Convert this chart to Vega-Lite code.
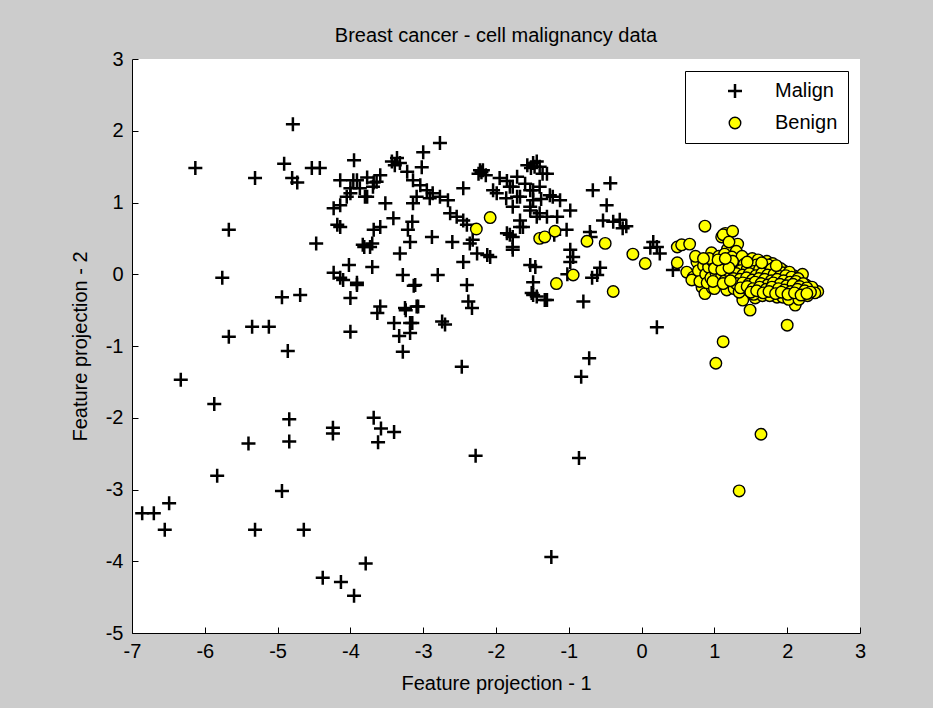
{
  "$schema": "https://vega.github.io/schema/vega-lite/v6.json",
  "autosize": {"type": "none"},
  "width": 728,
  "height": 574,
  "padding": {"left": 132, "top": 59, "right": 73, "bottom": 75},
  "background": "#cccccc",
  "config": {
    "view": {"fill": "white", "stroke": null},
    "font": "Liberation Sans",
    "axis": {"domainColor": "black", "tickColor": "black", "labelColor": "black", "titleColor": "black", "labelFontSize": 20, "titleFontSize": 20, "titleFontWeight": "normal", "labelFont": "Liberation Sans", "titleFont": "Liberation Sans", "grid": false, "tickSize": -6, "domainWidth": 1, "tickWidth": 1},
    "legend": {"labelFontSize": 20, "labelColor": "black", "labelFont": "Liberation Sans"}
  },
  "title": {"text": "Breast cancer - cell malignancy data", "fontSize": 20, "fontWeight": "normal", "color": "black", "anchor": "middle", "baseline": "alphabetic", "offset": 16, "dy": 29, "font": "Liberation Sans"},
  "data": {"values": [
    {"x": -6.13, "y": 1.48, "class": "Malign"}, {"x": -5.31, "y": 1.34, "class": "Malign"}, {"x": -4.79, "y": 2.09, "class": "Malign"}, {"x": -4.91, "y": 1.54, "class": "Malign"},
    {"x": -4.80, "y": 1.34, "class": "Malign"}, {"x": -4.73, "y": 1.28, "class": "Malign"}, {"x": -4.53, "y": 1.48, "class": "Malign"}, {"x": -4.42, "y": 1.48, "class": "Malign"},
    {"x": -3.95, "y": 1.59, "class": "Malign"}, {"x": -5.67, "y": 0.62, "class": "Malign"}, {"x": -5.76, "y": -0.05, "class": "Malign"}, {"x": -4.47, "y": 0.43, "class": "Malign"},
    {"x": -4.23, "y": 0.92, "class": "Malign"}, {"x": -4.14, "y": 0.96, "class": "Malign"}, {"x": -4.18, "y": 0.69, "class": "Malign"}, {"x": -4.14, "y": 0.66, "class": "Malign"},
    {"x": -4.14, "y": 1.31, "class": "Malign"}, {"x": -4.05, "y": 1.08, "class": "Malign"}, {"x": -4.00, "y": 1.13, "class": "Malign"}, {"x": -3.91, "y": 1.31, "class": "Malign"},
    {"x": -3.77, "y": 1.35, "class": "Malign"}, {"x": -3.68, "y": 1.28, "class": "Malign"}, {"x": -3.80, "y": 1.08, "class": "Malign"}, {"x": -3.87, "y": 1.20, "class": "Malign"},
    {"x": -3.68, "y": 0.62, "class": "Malign"}, {"x": -3.81, "y": 0.38, "class": "Malign"}, {"x": -3.70, "y": 0.43, "class": "Malign"}, {"x": -3.70, "y": 0.10, "class": "Malign"},
    {"x": -4.02, "y": 0.13, "class": "Malign"}, {"x": -4.23, "y": 0.02, "class": "Malign"}, {"x": -4.14, "y": -0.05, "class": "Malign"}, {"x": -3.91, "y": -0.12, "class": "Malign"},
    {"x": -4.94, "y": -0.32, "class": "Malign"}, {"x": -4.69, "y": -0.29, "class": "Malign"}, {"x": -4.00, "y": -0.33, "class": "Malign"}, {"x": -3.96, "y": 1.31, "class": "Malign"},
    {"x": -3.59, "y": 1.38, "class": "Malign"}, {"x": -3.64, "y": 1.29, "class": "Malign"}, {"x": -4.00, "y": 1.20, "class": "Malign"}, {"x": -3.69, "y": 1.22, "class": "Malign"},
    {"x": -3.77, "y": 1.08, "class": "Malign"}, {"x": -3.52, "y": 0.99, "class": "Malign"}, {"x": -3.41, "y": 0.78, "class": "Malign"}, {"x": -3.15, "y": 0.73, "class": "Malign"},
    {"x": -3.21, "y": 0.62, "class": "Malign"}, {"x": -3.59, "y": 0.66, "class": "Malign"}, {"x": -3.83, "y": 0.41, "class": "Malign"}, {"x": -3.73, "y": 0.38, "class": "Malign"},
    {"x": -3.32, "y": 0.29, "class": "Malign"}, {"x": -3.18, "y": 0.45, "class": "Malign"}, {"x": -2.88, "y": 0.52, "class": "Malign"}, {"x": -2.60, "y": 0.45, "class": "Malign"},
    {"x": -2.45, "y": 1.20, "class": "Malign"}, {"x": -3.22, "y": 1.43, "class": "Malign"}, {"x": -3.14, "y": 1.31, "class": "Malign"}, {"x": -3.04, "y": 1.24, "class": "Malign"},
    {"x": -2.95, "y": 1.17, "class": "Malign"}, {"x": -2.87, "y": 1.13, "class": "Malign"}, {"x": -2.91, "y": 1.06, "class": "Malign"}, {"x": -2.77, "y": 1.08, "class": "Malign"},
    {"x": -3.09, "y": 1.08, "class": "Malign"}, {"x": -3.14, "y": 0.99, "class": "Malign"}, {"x": -2.66, "y": 1.03, "class": "Malign"}, {"x": -2.77, "y": 1.83, "class": "Malign"},
    {"x": -3.00, "y": 1.70, "class": "Malign"}, {"x": -3.02, "y": 1.49, "class": "Malign"}, {"x": -3.36, "y": 1.62, "class": "Malign"}, {"x": -3.43, "y": 1.57, "class": "Malign"},
    {"x": -3.32, "y": 1.55, "class": "Malign"}, {"x": -3.39, "y": 1.52, "class": "Malign"}, {"x": -2.22, "y": 1.45, "class": "Malign"}, {"x": -2.20, "y": 1.42, "class": "Malign"},
    {"x": -2.24, "y": 1.40, "class": "Malign"}, {"x": -2.18, "y": 1.45, "class": "Malign"}, {"x": -2.63, "y": 0.85, "class": "Malign"}, {"x": -2.54, "y": 0.80, "class": "Malign"},
    {"x": -2.45, "y": 0.75, "class": "Malign"}, {"x": -2.40, "y": 0.69, "class": "Malign"}, {"x": -2.32, "y": 0.48, "class": "Malign"}, {"x": -2.36, "y": 0.43, "class": "Malign"},
    {"x": -2.26, "y": 0.29, "class": "Malign"}, {"x": -2.12, "y": 0.27, "class": "Malign"}, {"x": -2.45, "y": 0.17, "class": "Malign"}, {"x": -2.40, "y": -0.15, "class": "Malign"},
    {"x": -4.10, "y": -0.08, "class": "Malign"}, {"x": -3.28, "y": -0.01, "class": "Malign"}, {"x": -3.11, "y": -0.15, "class": "Malign"}, {"x": -2.80, "y": -0.01, "class": "Malign"},
    {"x": -1.95, "y": 1.34, "class": "Malign"}, {"x": -2.04, "y": 1.17, "class": "Malign"}, {"x": -1.77, "y": 1.22, "class": "Malign"}, {"x": -1.71, "y": 1.08, "class": "Malign"},
    {"x": -1.57, "y": 1.52, "class": "Malign"}, {"x": -1.44, "y": 1.57, "class": "Malign"}, {"x": -1.49, "y": 1.17, "class": "Malign"}, {"x": -1.49, "y": 1.03, "class": "Malign"},
    {"x": -1.53, "y": 0.89, "class": "Malign"}, {"x": -1.40, "y": 0.85, "class": "Malign"}, {"x": -1.36, "y": 1.40, "class": "Malign"}, {"x": -1.67, "y": 0.75, "class": "Malign"},
    {"x": -1.85, "y": 0.57, "class": "Malign"}, {"x": -1.77, "y": 0.52, "class": "Malign"}, {"x": -1.77, "y": 0.34, "class": "Malign"}, {"x": -1.53, "y": 0.13, "class": "Malign"},
    {"x": -1.49, "y": -0.11, "class": "Malign"}, {"x": -1.44, "y": -0.31, "class": "Malign"}, {"x": -0.43, "y": 1.27, "class": "Malign"}, {"x": -0.67, "y": 1.17, "class": "Malign"},
    {"x": -0.48, "y": 0.96, "class": "Malign"}, {"x": -0.53, "y": 0.75, "class": "Malign"}, {"x": -0.39, "y": 0.73, "class": "Malign"}, {"x": -0.26, "y": 0.64, "class": "Malign"},
    {"x": -0.21, "y": 0.67, "class": "Malign"}, {"x": -0.71, "y": 0.59, "class": "Malign"}, {"x": -0.98, "y": 0.89, "class": "Malign"}, {"x": -1.12, "y": 1.03, "class": "Malign"},
    {"x": -1.22, "y": 1.08, "class": "Malign"}, {"x": -1.03, "y": 0.62, "class": "Malign"}, {"x": -0.98, "y": 0.34, "class": "Malign"}, {"x": -0.94, "y": 0.24, "class": "Malign"},
    {"x": -0.98, "y": 0.17, "class": "Malign"}, {"x": -0.57, "y": 0.09, "class": "Malign"}, {"x": -0.61, "y": -0.01, "class": "Malign"}, {"x": -0.68, "y": -0.05, "class": "Malign"},
    {"x": -0.80, "y": -0.38, "class": "Malign"}, {"x": 0.21, "y": -0.74, "class": "Malign"}, {"x": -1.30, "y": -0.36, "class": "Malign"}, {"x": -1.46, "y": 0.10, "class": "Malign"},
    {"x": -1.51, "y": -0.26, "class": "Malign"}, {"x": -2.08, "y": 0.24, "class": "Malign"}, {"x": -1.77, "y": 0.38, "class": "Malign"}, {"x": -1.81, "y": 0.55, "class": "Malign"},
    {"x": -1.67, "y": 0.66, "class": "Malign"}, {"x": 0.16, "y": 0.45, "class": "Malign"}, {"x": 0.21, "y": 0.38, "class": "Malign"}, {"x": 0.25, "y": 0.29, "class": "Malign"},
    {"x": 0.12, "y": 0.37, "class": "Malign"}, {"x": 0.43, "y": 0.06, "class": "Malign"}, {"x": -1.49, "y": 1.55, "class": "Malign"}, {"x": -1.40, "y": 1.50, "class": "Malign"},
    {"x": -1.30, "y": 1.40, "class": "Malign"}, {"x": -1.71, "y": 1.36, "class": "Malign"}, {"x": -1.81, "y": 1.22, "class": "Malign"}, {"x": -1.53, "y": 1.17, "class": "Malign"},
    {"x": -1.40, "y": 1.22, "class": "Malign"}, {"x": -1.26, "y": 1.10, "class": "Malign"}, {"x": -1.99, "y": 1.13, "class": "Malign"}, {"x": -1.67, "y": 1.08, "class": "Malign"},
    {"x": -1.77, "y": 0.94, "class": "Malign"}, {"x": -1.53, "y": 0.94, "class": "Malign"}, {"x": -1.44, "y": 0.80, "class": "Malign"}, {"x": -1.30, "y": 0.80, "class": "Malign"},
    {"x": -1.16, "y": 0.80, "class": "Malign"}, {"x": -1.63, "y": 0.66, "class": "Malign"}, {"x": -1.02, "y": 0.00, "class": "Malign"}, {"x": -0.72, "y": -1.17, "class": "Malign"},
    {"x": -0.83, "y": -1.43, "class": "Malign"}, {"x": -2.47, "y": -1.29, "class": "Malign"}, {"x": -2.28, "y": -2.53, "class": "Malign"}, {"x": -0.86, "y": -2.56, "class": "Malign"},
    {"x": -1.24, "y": -3.94, "class": "Malign"}, {"x": -1.33, "y": -0.36, "class": "Malign"}, {"x": -1.49, "y": -0.29, "class": "Malign"}, {"x": -2.38, "y": -0.38, "class": "Malign"},
    {"x": -2.33, "y": -0.47, "class": "Malign"}, {"x": -3.25, "y": -0.47, "class": "Malign"}, {"x": -3.07, "y": -0.45, "class": "Malign"}, {"x": -3.18, "y": -0.68, "class": "Malign"},
    {"x": -3.18, "y": -0.82, "class": "Malign"}, {"x": -3.28, "y": -1.08, "class": "Malign"}, {"x": -2.74, "y": -0.66, "class": "Malign"}, {"x": -2.70, "y": -0.70, "class": "Malign"},
    {"x": -3.91, "y": -0.15, "class": "Malign"}, {"x": -3.59, "y": -0.45, "class": "Malign"}, {"x": -3.63, "y": -0.54, "class": "Malign"}, {"x": -3.24, "y": -0.50, "class": "Malign"},
    {"x": -3.09, "y": -0.45, "class": "Malign"}, {"x": -3.13, "y": -0.16, "class": "Malign"}, {"x": -3.40, "y": -0.68, "class": "Malign"}, {"x": -3.15, "y": -0.68, "class": "Malign"},
    {"x": -3.33, "y": -0.86, "class": "Malign"}, {"x": -4.00, "y": -0.80, "class": "Malign"}, {"x": -5.67, "y": -0.87, "class": "Malign"}, {"x": -5.35, "y": -0.73, "class": "Malign"},
    {"x": -5.12, "y": -0.73, "class": "Malign"}, {"x": -4.86, "y": -1.07, "class": "Malign"}, {"x": -6.33, "y": -1.47, "class": "Malign"}, {"x": -5.87, "y": -1.81, "class": "Malign"},
    {"x": -4.84, "y": -2.02, "class": "Malign"}, {"x": -4.84, "y": -2.33, "class": "Malign"}, {"x": -5.40, "y": -2.36, "class": "Malign"}, {"x": -4.24, "y": -2.14, "class": "Malign"},
    {"x": -4.24, "y": -2.22, "class": "Malign"}, {"x": -3.68, "y": -2.00, "class": "Malign"}, {"x": -3.58, "y": -2.15, "class": "Malign"}, {"x": -3.40, "y": -2.20, "class": "Malign"},
    {"x": -3.62, "y": -2.34, "class": "Malign"}, {"x": -5.83, "y": -2.81, "class": "Malign"}, {"x": -4.94, "y": -3.02, "class": "Malign"}, {"x": -6.49, "y": -3.19, "class": "Malign"},
    {"x": -6.86, "y": -3.33, "class": "Malign"}, {"x": -6.70, "y": -3.33, "class": "Malign"}, {"x": -6.55, "y": -3.56, "class": "Malign"}, {"x": -5.31, "y": -3.56, "class": "Malign"},
    {"x": -4.64, "y": -3.56, "class": "Malign"}, {"x": -3.79, "y": -4.03, "class": "Malign"}, {"x": -4.38, "y": -4.23, "class": "Malign"}, {"x": -4.13, "y": -4.29, "class": "Malign"},
    {"x": -3.95, "y": -4.48, "class": "Malign"}, {"x": -1.47, "y": 1.50, "class": "Malign"}, {"x": -1.52, "y": 1.48, "class": "Malign"}, {"x": -2.14, "y": 1.38, "class": "Malign"},
    {"x": -1.85, "y": 1.30, "class": "Malign"}, {"x": -1.60, "y": 1.26, "class": "Malign"}, {"x": -1.38, "y": 1.05, "class": "Malign"}, {"x": -1.86, "y": 1.06, "class": "Malign"},
    {"x": -1.20, "y": 0.55, "class": "Malign"}, {"x": -0.70, "y": 0.52, "class": "Malign"}, {"x": -0.30, "y": 0.76, "class": "Malign"},
    {"x": -2.27, "y": 0.63, "class": "Benign"}, {"x": -2.08, "y": 0.79, "class": "Benign"}, {"x": -1.40, "y": 0.50, "class": "Benign"}, {"x": -1.33, "y": 0.52, "class": "Benign"},
    {"x": -1.19, "y": 0.60, "class": "Benign"}, {"x": -1.17, "y": -0.13, "class": "Benign"}, {"x": -0.94, "y": -0.01, "class": "Benign"}, {"x": -0.75, "y": 0.46, "class": "Benign"},
    {"x": -0.50, "y": 0.43, "class": "Benign"}, {"x": -0.39, "y": -0.24, "class": "Benign"}, {"x": -0.12, "y": 0.28, "class": "Benign"}, {"x": 0.05, "y": 0.15, "class": "Benign"},
    {"x": 0.49, "y": 0.38, "class": "Benign"}, {"x": 0.49, "y": 0.16, "class": "Benign"}, {"x": 0.55, "y": 0.41, "class": "Benign"}, {"x": 0.66, "y": 0.42, "class": "Benign"},
    {"x": 0.87, "y": 0.67, "class": "Benign"}, {"x": 1.15, "y": 0.57, "class": "Benign"}, {"x": 1.10, "y": 0.52, "class": "Benign"}, {"x": 1.12, "y": 0.55, "class": "Benign"},
    {"x": 1.32, "y": 0.42, "class": "Benign"}, {"x": 0.62, "y": 0.03, "class": "Benign"}, {"x": 0.71, "y": -0.04, "class": "Benign"}, {"x": 0.69, "y": -0.08, "class": "Benign"},
    {"x": 0.76, "y": 0.17, "class": "Benign"}, {"x": 0.83, "y": -0.18, "class": "Benign"}, {"x": 0.87, "y": -0.27, "class": "Benign"}, {"x": 0.97, "y": -0.19, "class": "Benign"},
    {"x": 1.39, "y": -0.36, "class": "Benign"}, {"x": 1.56, "y": -0.33, "class": "Benign"}, {"x": 1.49, "y": -0.50, "class": "Benign"}, {"x": 2.11, "y": -0.43, "class": "Benign"},
    {"x": 2.00, "y": -0.71, "class": "Benign"}, {"x": 1.12, "y": -0.94, "class": "Benign"}, {"x": 1.02, "y": -1.24, "class": "Benign"}, {"x": 1.64, "y": -2.23, "class": "Benign"},
    {"x": 1.34, "y": -3.02, "class": "Benign"}, {"x": 2.42, "y": -0.24, "class": "Benign"},
    {"x": 0.78, "y": 0.05, "class": "Benign"}, {"x": 0.85, "y": 0.12, "class": "Benign"}, {"x": 0.80, "y": -0.10, "class": "Benign"}, {"x": 0.88, "y": 0.00, "class": "Benign"},
    {"x": 0.74, "y": 0.25, "class": "Benign"}, {"x": 0.90, "y": -0.12, "class": "Benign"}, {"x": 0.96, "y": 0.30, "class": "Benign"}, {"x": 1.18, "y": 0.35, "class": "Benign"},
    {"x": 1.30, "y": 0.32, "class": "Benign"}, {"x": 1.25, "y": 0.60, "class": "Benign"}, {"x": 1.20, "y": 0.45, "class": "Benign"},
    {"x": 0.92, "y": 0.10, "class": "Benign"}, {"x": 0.95, "y": -0.05, "class": "Benign"}, {"x": 0.98, "y": 0.18, "class": "Benign"}, {"x": 1.02, "y": 0.02, "class": "Benign"},
    {"x": 1.05, "y": -0.12, "class": "Benign"}, {"x": 1.08, "y": 0.12, "class": "Benign"}, {"x": 0.93, "y": 0.22, "class": "Benign"}, {"x": 1.00, "y": -0.20, "class": "Benign"},
    {"x": 1.06, "y": 0.25, "class": "Benign"}, {"x": 1.10, "y": -0.02, "class": "Benign"},
    {"x": 1.12, "y": 0.15, "class": "Benign"}, {"x": 1.15, "y": -0.08, "class": "Benign"}, {"x": 1.18, "y": 0.05, "class": "Benign"}, {"x": 1.20, "y": 0.20, "class": "Benign"},
    {"x": 1.22, "y": -0.15, "class": "Benign"}, {"x": 1.25, "y": 0.10, "class": "Benign"}, {"x": 1.28, "y": -0.03, "class": "Benign"}, {"x": 1.14, "y": 0.28, "class": "Benign"},
    {"x": 1.24, "y": 0.24, "class": "Benign"}, {"x": 1.17, "y": -0.22, "class": "Benign"}, {"x": 1.29, "y": 0.16, "class": "Benign"}, {"x": 1.27, "y": -0.20, "class": "Benign"},
    {"x": 1.31, "y": 0.05, "class": "Benign"}, {"x": 1.33, "y": -0.10, "class": "Benign"}, {"x": 1.35, "y": 0.18, "class": "Benign"}, {"x": 1.37, "y": -0.02, "class": "Benign"},
    {"x": 1.40, "y": 0.12, "class": "Benign"}, {"x": 1.42, "y": -0.18, "class": "Benign"}, {"x": 1.44, "y": 0.02, "class": "Benign"}, {"x": 1.46, "y": 0.20, "class": "Benign"},
    {"x": 1.48, "y": -0.08, "class": "Benign"}, {"x": 1.34, "y": -0.25, "class": "Benign"}, {"x": 1.38, "y": 0.25, "class": "Benign"}, {"x": 1.43, "y": 0.08, "class": "Benign"},
    {"x": 1.47, "y": -0.22, "class": "Benign"},
    {"x": 1.51, "y": 0.10, "class": "Benign"}, {"x": 1.53, "y": -0.05, "class": "Benign"}, {"x": 1.55, "y": 0.15, "class": "Benign"}, {"x": 1.57, "y": -0.15, "class": "Benign"},
    {"x": 1.59, "y": 0.03, "class": "Benign"}, {"x": 1.61, "y": -0.25, "class": "Benign"}, {"x": 1.63, "y": 0.12, "class": "Benign"}, {"x": 1.65, "y": -0.08, "class": "Benign"},
    {"x": 1.67, "y": 0.05, "class": "Benign"}, {"x": 1.69, "y": -0.18, "class": "Benign"}, {"x": 1.52, "y": 0.22, "class": "Benign"}, {"x": 1.60, "y": 0.20, "class": "Benign"},
    {"x": 1.66, "y": -0.30, "class": "Benign"}, {"x": 1.54, "y": -0.28, "class": "Benign"},
    {"x": 1.71, "y": 0.00, "class": "Benign"}, {"x": 1.73, "y": -0.12, "class": "Benign"}, {"x": 1.75, "y": 0.10, "class": "Benign"}, {"x": 1.77, "y": -0.22, "class": "Benign"},
    {"x": 1.79, "y": -0.05, "class": "Benign"}, {"x": 1.81, "y": 0.05, "class": "Benign"}, {"x": 1.83, "y": -0.15, "class": "Benign"}, {"x": 1.85, "y": -0.28, "class": "Benign"},
    {"x": 1.87, "y": 0.02, "class": "Benign"}, {"x": 1.89, "y": -0.10, "class": "Benign"}, {"x": 1.72, "y": 0.18, "class": "Benign"}, {"x": 1.80, "y": 0.15, "class": "Benign"},
    {"x": 1.86, "y": -0.32, "class": "Benign"}, {"x": 1.76, "y": -0.30, "class": "Benign"},
    {"x": 1.91, "y": -0.05, "class": "Benign"}, {"x": 1.93, "y": -0.18, "class": "Benign"}, {"x": 1.95, "y": 0.05, "class": "Benign"}, {"x": 1.97, "y": -0.25, "class": "Benign"},
    {"x": 1.99, "y": -0.12, "class": "Benign"}, {"x": 2.01, "y": 0.02, "class": "Benign"}, {"x": 2.03, "y": -0.08, "class": "Benign"}, {"x": 2.05, "y": -0.20, "class": "Benign"},
    {"x": 2.07, "y": -0.30, "class": "Benign"}, {"x": 2.09, "y": -0.02, "class": "Benign"}, {"x": 1.94, "y": -0.32, "class": "Benign"}, {"x": 2.02, "y": -0.35, "class": "Benign"},
    {"x": 2.12, "y": -0.15, "class": "Benign"}, {"x": 2.14, "y": -0.05, "class": "Benign"}, {"x": 2.17, "y": -0.22, "class": "Benign"}, {"x": 2.20, "y": -0.10, "class": "Benign"},
    {"x": 2.23, "y": -0.28, "class": "Benign"}, {"x": 2.26, "y": -0.15, "class": "Benign"}, {"x": 2.30, "y": -0.22, "class": "Benign"}, {"x": 2.34, "y": -0.18, "class": "Benign"},
    {"x": 2.38, "y": -0.26, "class": "Benign"}, {"x": 2.16, "y": -0.35, "class": "Benign"}, {"x": 2.28, "y": -0.30, "class": "Benign"}, {"x": 2.21, "y": 0.00, "class": "Benign"},
    {"x": 1.33, "y": 0.11, "class": "Benign"}, {"x": 1.41, "y": 0.14, "class": "Benign"}, {"x": 1.49, "y": 0.11, "class": "Benign"}, {"x": 1.58, "y": 0.13, "class": "Benign"},
    {"x": 1.67, "y": 0.10, "class": "Benign"}, {"x": 1.74, "y": 0.13, "class": "Benign"}, {"x": 1.83, "y": 0.10, "class": "Benign"}, {"x": 1.91, "y": 0.08, "class": "Benign"},
    {"x": 1.28, "y": 0.07, "class": "Benign"}, {"x": 1.36, "y": 0.05, "class": "Benign"}, {"x": 1.45, "y": 0.07, "class": "Benign"}, {"x": 1.54, "y": 0.04, "class": "Benign"},
    {"x": 1.62, "y": 0.07, "class": "Benign"}, {"x": 1.70, "y": 0.05, "class": "Benign"}, {"x": 1.78, "y": 0.07, "class": "Benign"}, {"x": 1.86, "y": 0.04, "class": "Benign"},
    {"x": 1.94, "y": 0.02, "class": "Benign"}, {"x": 2.03, "y": 0.03, "class": "Benign"},
    {"x": 1.30, "y": 0.01, "class": "Benign"}, {"x": 1.39, "y": -0.01, "class": "Benign"}, {"x": 1.48, "y": 0.01, "class": "Benign"}, {"x": 1.57, "y": -0.02, "class": "Benign"},
    {"x": 1.65, "y": 0.01, "class": "Benign"}, {"x": 1.73, "y": -0.01, "class": "Benign"}, {"x": 1.82, "y": 0.00, "class": "Benign"}, {"x": 1.90, "y": -0.03, "class": "Benign"},
    {"x": 1.98, "y": -0.02, "class": "Benign"}, {"x": 2.06, "y": -0.04, "class": "Benign"}, {"x": 2.15, "y": -0.06, "class": "Benign"},
    {"x": 1.26, "y": -0.06, "class": "Benign"}, {"x": 1.35, "y": -0.07, "class": "Benign"}, {"x": 1.44, "y": -0.05, "class": "Benign"}, {"x": 1.52, "y": -0.08, "class": "Benign"},
    {"x": 1.61, "y": -0.06, "class": "Benign"}, {"x": 1.69, "y": -0.07, "class": "Benign"}, {"x": 1.78, "y": -0.09, "class": "Benign"}, {"x": 1.86, "y": -0.07, "class": "Benign"},
    {"x": 1.95, "y": -0.09, "class": "Benign"}, {"x": 2.04, "y": -0.11, "class": "Benign"}, {"x": 2.12, "y": -0.10, "class": "Benign"}, {"x": 2.22, "y": -0.13, "class": "Benign"},
    {"x": 1.30, "y": -0.13, "class": "Benign"}, {"x": 1.39, "y": -0.12, "class": "Benign"}, {"x": 1.47, "y": -0.14, "class": "Benign"}, {"x": 1.56, "y": -0.11, "class": "Benign"},
    {"x": 1.64, "y": -0.13, "class": "Benign"}, {"x": 1.73, "y": -0.15, "class": "Benign"}, {"x": 1.81, "y": -0.12, "class": "Benign"}, {"x": 1.90, "y": -0.14, "class": "Benign"},
    {"x": 1.99, "y": -0.16, "class": "Benign"}, {"x": 2.08, "y": -0.14, "class": "Benign"}, {"x": 2.17, "y": -0.17, "class": "Benign"}, {"x": 2.27, "y": -0.19, "class": "Benign"},
    {"x": 1.36, "y": -0.19, "class": "Benign"}, {"x": 1.45, "y": -0.17, "class": "Benign"}, {"x": 1.53, "y": -0.20, "class": "Benign"}, {"x": 1.62, "y": -0.18, "class": "Benign"},
    {"x": 1.71, "y": -0.21, "class": "Benign"}, {"x": 1.79, "y": -0.18, "class": "Benign"}, {"x": 1.88, "y": -0.20, "class": "Benign"}, {"x": 1.96, "y": -0.22, "class": "Benign"},
    {"x": 2.05, "y": -0.24, "class": "Benign"}, {"x": 2.14, "y": -0.21, "class": "Benign"}, {"x": 2.24, "y": -0.23, "class": "Benign"}, {"x": 2.32, "y": -0.25, "class": "Benign"},
    {"x": 1.50, "y": -0.25, "class": "Benign"}, {"x": 1.58, "y": -0.23, "class": "Benign"}, {"x": 1.67, "y": -0.26, "class": "Benign"}, {"x": 1.75, "y": -0.24, "class": "Benign"},
    {"x": 1.84, "y": -0.27, "class": "Benign"}, {"x": 1.92, "y": -0.25, "class": "Benign"}, {"x": 2.01, "y": -0.28, "class": "Benign"}, {"x": 2.10, "y": -0.26, "class": "Benign"},
    {"x": 2.19, "y": -0.29, "class": "Benign"}, {"x": 2.27, "y": -0.27, "class": "Benign"},
    {"x": 1.25, "y": 0.18, "class": "Benign"}, {"x": 1.45, "y": 0.17, "class": "Benign"}, {"x": 1.65, "y": 0.16, "class": "Benign"}, {"x": 1.85, "y": 0.12, "class": "Benign"},
    {"x": 1.00, "y": 0.08, "class": "Benign"}, {"x": 1.10, "y": 0.06, "class": "Benign"}, {"x": 1.20, "y": 0.09, "class": "Benign"}, {"x": 0.98, "y": -0.10, "class": "Benign"},
    {"x": 1.12, "y": -0.13, "class": "Benign"}, {"x": 1.22, "y": -0.09, "class": "Benign"}, {"x": 1.05, "y": 0.20, "class": "Benign"}, {"x": 1.15, "y": 0.22, "class": "Benign"},
    {"x": 0.85, "y": 0.22, "class": "Benign"}
  ]},
  "mark": {"type": "point", "filled": true, "opacity": 1, "stroke": "black"},
  "encoding": {
    "x": {"field": "x", "type": "quantitative", "scale": {"domain": [-7, 3], "nice": false, "zero": false}, "axis": {"values": [-7, -6, -5, -4, -3, -2, -1, 0, 1, 2, 3], "title": "Feature projection - 1", "labelPadding": 14, "titleY": 50, "titleBaseline": "middle", "labelFlush": false, "labelExpr": "replace(datum.label, '−', '-')"}},
    "y": {"field": "y", "type": "quantitative", "scale": {"domain": [-5, 3], "nice": false, "zero": false}, "axis": {"values": [-5, -4, -3, -2, -1, 0, 1, 2, 3], "title": "Feature projection - 2", "labelPadding": 15, "titleX": -52, "titleBaseline": "middle", "titleAngle": -90, "labelFlush": false, "labelExpr": "replace(datum.label, '−', '-')"}},
    "shape": {"field": "class", "type": "nominal", "scale": {"domain": ["Malign", "Benign"], "range": ["M-1,0H1M0,-1V1", "circle"]},
      "legend": {"title": null, "orient": "none", "legendX": 553, "legendY": 12, "padding": 10, "fillColor": "white", "strokeColor": "black", "symbolOffset": 30, "labelOffset": 30, "rowPadding": 10, "symbolStrokeColor": "black"}},
    "fill": {"field": "class", "type": "nominal", "scale": {"domain": ["Malign", "Benign"], "range": ["black", "#ffff00"]}, "legend": {"title": null}},
    "size": {"field": "class", "type": "nominal", "scale": {"domain": ["Malign", "Benign"], "range": [196, 133]}, "legend": {"title": null}},
    "strokeWidth": {"field": "class", "type": "nominal", "scale": {"domain": ["Malign", "Benign"], "range": [2.5, 1.4]}, "legend": {"title": null}}
  }
}
